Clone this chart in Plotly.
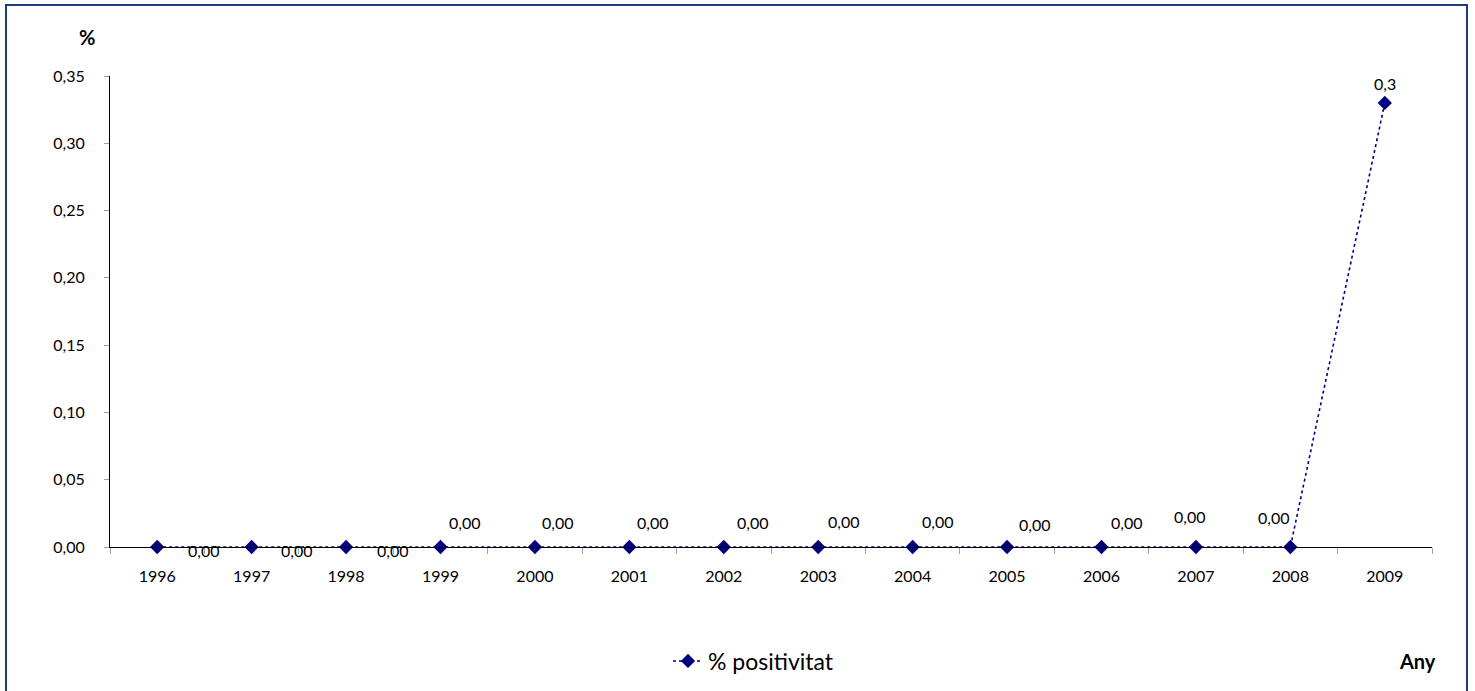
import plotly.graph_objects as go

years = ["1996", "1997", "1998", "1999", "2000", "2001", "2002",
         "2003", "2004", "2005", "2006", "2007", "2008", "2009"]
positivitat = [0, 0, 0, 0, 0, 0, 0, 0, 0, 0, 0, 0, 0, 0.33]
labels = ["0,00"] * 13 + ["0,3"]
y_ticks = [0, 0.05, 0.10, 0.15, 0.20, 0.25, 0.30, 0.35]

# label offsets (pixels) relative to each point
label_dx = [46, 45, 46, 24, 23, 23, 29, 25, 25, 27, 25, -6, -17, 0]
label_dy = [-3, -3, -3, 25, 25, 25, 25, 26, 26, 23, 25, 31, 30, 19]

FONT = "Lato, 'Open Sans', Arial, sans-serif"
NAVY = "#000080"

fig = go.Figure()
fig.add_trace(go.Scatter(
    x=years, y=positivitat, mode="lines+markers", name="% positivitat",
    line=dict(color=NAVY, width=1.6, dash="dot"),
    marker=dict(symbol="diamond", size=11, color=NAVY),
    cliponaxis=False,
))

for i, (y, t, dx, dy) in enumerate(zip(positivitat, labels, label_dx, label_dy)):
    fig.add_annotation(x=i, y=y, text=t, showarrow=False, xref="x", yref="y",
                       xshift=dx, yshift=dy,
                       font=dict(family=FONT, size=16, color="#000000"))

L, R, T, B = 110, 43, 76, 144
W, H = 1475, 691
pw, ph = W - L - R, H - T - B

def px(xp):
    return (xp - L) / pw

def py(yp):
    return (H - B - yp) / ph

fig.add_shape(type="rect", xref="paper", yref="paper",
              x0=px(6), x1=px(1467), y0=py(5), y1=py(700),
              line=dict(color="#1F3A7A", width=2), fillcolor="rgba(0,0,0,0)",
              layer="below")

fig.add_annotation(x=px(87), y=py(37), xref="paper", yref="paper", text="<b>%</b>",
                   xanchor="center", yanchor="middle",
                   showarrow=False, font=dict(family=FONT, size=20, color="#000"))
fig.add_annotation(x=px(1417), y=py(661), xref="paper", yref="paper", text="<b>Any</b>",
                   xanchor="center", yanchor="middle",
                   showarrow=False, font=dict(family=FONT, size=20, color="#000"))

fig.update_layout(
    width=W, height=H,
    margin=dict(l=L, r=R, t=T, b=B, autoexpand=False),
    paper_bgcolor="white", plot_bgcolor="white",
    separators=", ",
    font=dict(family=FONT, size=16, color="#000"),
    showlegend=True,
    legend=dict(orientation="h", x=px(668), xanchor="left", y=py(661), yanchor="middle",
                font=dict(family=FONT, size=23, color="#000"),
                bgcolor="rgba(0,0,0,0)"),
    xaxis=dict(type="category", range=[-0.5, 13.5], showgrid=False,
               showline=True, linecolor="#000", linewidth=1,
               ticks="outside", tickson="boundaries", ticklen=6, tickcolor="#A0A0A0",
               ticklabelstandoff=15,
               tickfont=dict(family=FONT, size=16), zeroline=False),
    yaxis=dict(range=[0, 0.35], tickvals=y_ticks, tickformat=".2f", showgrid=False,
               showline=True, linecolor="#000", linewidth=1,
               ticks="outside", ticklen=5, tickcolor="#A0A0A0",
               ticklabelstandoff=16,
               tickfont=dict(family=FONT, size=16), zeroline=False),
)

fig.write_html("out.html", config={"displayModeBar": False},
               post_script="document.body.style.margin='0';")
